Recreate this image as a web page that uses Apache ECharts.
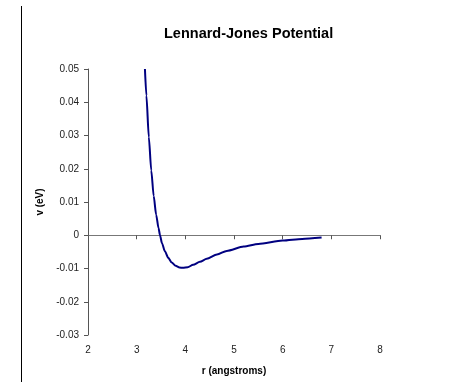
<!DOCTYPE html>
<html>
<head>
<meta charset="utf-8">
<script src="https://cdn.jsdelivr.net/npm/echarts@6/dist/echarts.min.js"></script>
<style>
  html, body { margin: 0; padding: 0; background: #fff; }
  #chart { width: 460px; height: 382px; }
</style>
</head>
<body>
<div id="chart"></div>
<script>
// r in angstroms, v in eV
var rValues = [3.17, 3.2, 3.25, 3.3, 3.35, 3.4, 3.45, 3.48, 3.52, 3.58, 3.65, 3.72, 3.8, 3.88, 3.95, 4.05, 4.16, 4.3, 4.44, 4.65, 4.85, 5.2, 5.5, 6.0, 6.4, 6.8];
var vValues = [0.05, 0.042, 0.0295, 0.0195, 0.0118, 0.0062, 0.0021, 0, -0.0024, -0.0048, -0.0068, -0.0082, -0.0092, -0.0097, -0.0098, -0.0096, -0.0089, -0.008, -0.0071, -0.0058, -0.0047, -0.0034, -0.0026, -0.0016, -0.0011, -0.0007];
var xTicks = [2, 3, 4, 5, 6, 7, 8];
var yTicks = [-0.03, -0.02, -0.01, 0, 0.01, 0.02, 0.03, 0.04, 0.05];

var font = 'Arial, "Liberation Sans", sans-serif';
var points = rValues.map(function (r, i) { return [r, vValues[i]]; });

var option = {
    backgroundColor: '#fff',
    animation: false,
    title: {
        text: 'Lennard-Jones Potential',
        left: 159,
        top: 21,
        textStyle: { fontFamily: font, fontSize: 14.5, fontWeight: 'bold', color: '#000' }
    },
    grid: { left: 88, right: 80, top: 69, bottom: 47 },
    xAxis: [{
        type: 'value',
        min: xTicks[0],
        max: xTicks[xTicks.length - 1],
        interval: 1,
        name: 'r (angstroms)',
        nameLocation: 'middle',
        nameGap: 31,
        nameTextStyle: { fontFamily: font, fontSize: 10, fontWeight: 'bold', color: '#000' },
        axisLine: { show: false, onZero: false },
        axisTick: { show: false },
        splitLine: { show: false },
        axisLabel: { fontFamily: font, fontSize: 10, color: '#222', margin: 10 }
    }, {
        type: 'value',
        position: 'bottom',
        min: xTicks[0],
        max: xTicks[xTicks.length - 1],
        interval: 1,
        axisLine: { show: true, onZero: true, lineStyle: { color: '#777', width: 1 } },
        axisTick: { show: true, length: 4, lineStyle: { color: '#555' } },
        axisLabel: { show: false },
        splitLine: { show: false }
    }],
    yAxis: {
        type: 'value',
        min: yTicks[0],
        max: yTicks[yTicks.length - 1],
        interval: 0.01,
        name: 'v (eV)',
        nameLocation: 'middle',
        nameRotate: 90,
        nameGap: 34,
        nameTextStyle: { fontFamily: font, fontSize: 10, fontWeight: 'bold', color: '#000' },
        axisLine: { show: true, lineStyle: { color: '#555', width: 1 } },
        axisTick: { show: true, length: 4, lineStyle: { color: '#555' } },
        splitLine: { show: false },
        axisLabel: {
            fontFamily: font, fontSize: 10, color: '#222', margin: 9,
            formatter: function (v) { return String(Math.round(v * 100) / 100); }
        }
    },
    graphic: [{
        type: 'line',
        shape: { x1: 21.5, y1: 6, x2: 21.5, y2: 382 },
        style: { stroke: '#000', lineWidth: 1 }
    }],
    series: [{
        type: 'line',
        xAxisIndex: 0,
        data: points,
        smooth: 0.25,
        smoothMonotone: 'x',
        showSymbol: false,
        lineStyle: { color: '#000080', width: 2 }
    }]
};

var myChart = echarts.init(document.getElementById('chart'));
myChart.setOption(option);
</script>
</body>
</html>
